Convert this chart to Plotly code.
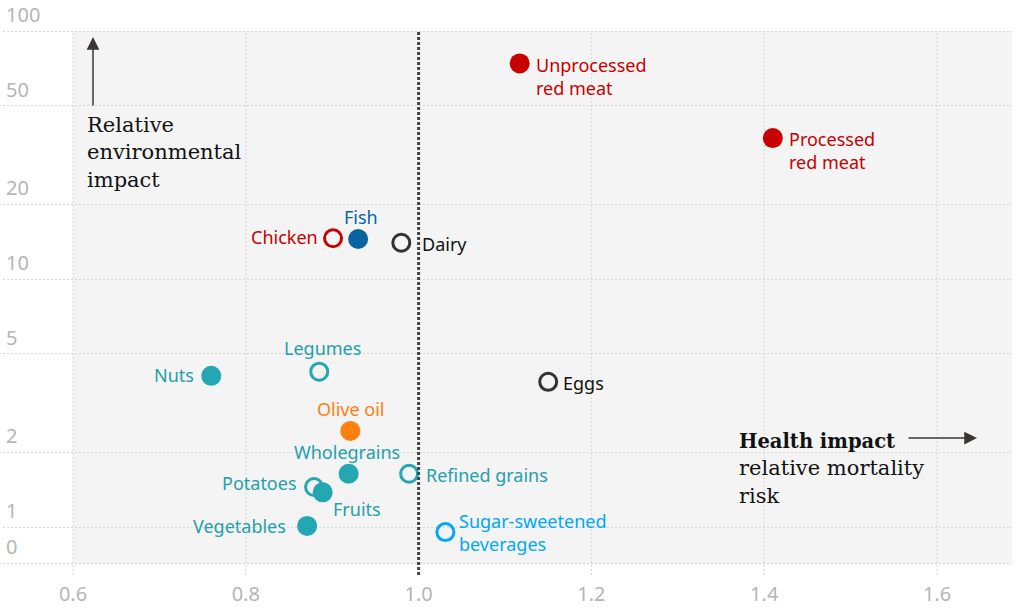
import math
import plotly.graph_objects as go

# ---------------- data ----------------
foods = ["Unprocessed red meat", "Processed red meat", "Chicken", "Fish", "Dairy",
         "Nuts", "Legumes", "Eggs", "Olive oil", "Wholegrains", "Refined grains",
         "Potatoes", "Fruits", "Vegetables", "Sugar-sweetened beverages"]
health_risk = [1.117, 1.410, 0.901, 0.930, 0.980, 0.760, 0.885, 1.150, 0.921,
               0.919, 0.989, 0.879, 0.889, 0.871, 1.031]
env_impact = [74.0, 37.0, 14.6, 14.5, 14.0, 4.07, 4.23, 3.85, 2.44,
              1.64, 1.64, 1.45, 1.38, 1.01, 0.954]
filled = [True, True, False, True, False, True, False, False, True,
          True, False, False, True, True, False]
group = ["red", "red", "red", "fish", "dark", "teal", "teal", "dark", "orange",
         "teal", "teal", "teal", "teal", "teal", "sky"]
label_text = ["Unprocessed<br>red meat", "Processed<br>red meat", "Chicken", "Fish", "Dairy",
              "Nuts", "Legumes", "Eggs", "Olive oil", "Wholegrains", "Refined grains",
              "Potatoes", "Fruits", "Vegetables", "Sugar-sweetened<br>beverages"]

x_tickvals = [0.6, 0.8, 1.0, 1.2, 1.4, 1.6]
x_ticktext = ["0.6", "0.8", "1.0", "1.2", "1.4", "1.6"]
y_tickvals = [0.715, 1, 2, 5, 10, 20, 50, 100]
y_ticktext = ["0", "1", "2", "5", "10", "20", "50", "100"]

# ---------------- styles ----------------
colors = {"red": "#c70000", "fish": "#0a64a0", "dark": "#333333",
          "teal": "#24a7b2", "orange": "#ff7f0f", "sky": "#00a8f5"}
label_colors = {"red": "#c70000", "fish": "#0a64a0", "dark": "#121212",
                "teal": "#1fa0ab", "orange": "#ff7f0f", "sky": "#00a8f5"}
# label placement: (xanchor, xshift px, yshift px)
label_pos = {
    "Unprocessed red meat": ("left", 14, -13),
    "Processed red meat": ("left", 14, -12),
    "Chicken": ("right", -13, 1),
    "Fish": ("center", 3, 22),
    "Dairy": ("left", 19, -1),
    "Nuts": ("right", -15, 1),
    "Legumes": ("center", 3, 24),
    "Eggs": ("left", 13, -1),
    "Olive oil": ("center", 1, 22),
    "Wholegrains": ("center", -2, 22),
    "Refined grains": ("left", 15, -1),
    "Potatoes": ("right", -15, 4),
    "Fruits": ("left", 8, -17),
    "Vegetables": ("right", -19, 0),
    "Sugar-sweetened beverages": ("left", 12, 0),
}

SANS = "Noto Sans"
SERIF = "DejaVu Serif"
GRID = "#d4d4d4"
ML, MR, MT, MB = 3, 12, 0, 38
PW, PH = 1024 - ML - MR, 613 - MT - MB
x_range = [0.6 - (73 - ML) / 864, 0.6 + (1012 - 73) / 864]
y_range = [-0.1935, -0.1935 + PH / 248]


def px(xp):
    return (xp - ML) / PW


def py(yp):
    return (613 - MB - yp) / PH


fig = go.Figure()
fig.add_trace(go.Scatter(
    x=health_risk, y=env_impact, mode="markers",
    marker=dict(
        size=[20 if f else 17 for f in filled],
        symbol=["circle" if f else "circle-open" for f in filled],
        color=[colors[g] for g in group],
        opacity=1,
        line=dict(width=[0 if f else 3 for f in filled],
                  color=[colors[g] for g in group]),
    ),
    hoverinfo="text", text=foods, showlegend=False,
))

annotations = []
for name, xv, yv, g, txt in zip(foods, health_risk, env_impact, group, label_text):
    xa, dx, dy = label_pos[name]
    annotations.append(dict(
        x=xv, y=math.log10(yv), xref="x", yref="y", text=txt, showarrow=False,
        xanchor=xa, yanchor="middle", xshift=dx, yshift=dy, align="left",
        font=dict(family=SANS, size=18, color=label_colors[g]),
    ))

# axis titles
annotations.append(dict(
    x=px(85), y=py(152.5), xref="paper", yref="paper",
    text="Relative<br>environmental<br>impact", showarrow=False,
    xanchor="left", yanchor="middle", align="left",
    font=dict(family=SERIF, size=21, color="#121212"),
))
annotations.append(dict(
    x=px(737), y=py(468.5), xref="paper", yref="paper",
    text="<b><span style='font-size:19.5px'>Health impact</span></b><br>relative mortality<br>risk",
    showarrow=False, xanchor="left", yanchor="middle", align="left",
    font=dict(family=SERIF, size=21, color="#121212"),
))
# arrows
annotations.append(dict(
    x=px(93), y=py(37), xref="paper", yref="paper",
    text="", showarrow=True, ax=0, ay=70, arrowhead=2, arrowsize=1.7,
    arrowwidth=1.5, arrowcolor="#3a3633",
))
annotations.append(dict(
    x=px(977), y=py(438), xref="paper", yref="paper",
    text="", showarrow=True, ax=-70, ay=0, arrowhead=2, arrowsize=1.7,
    arrowwidth=1.5, arrowcolor="#3a3633",
))

shapes = [
    dict(type="rect", xref="x", yref="y", x0=0.6, x1=x_range[1],
         y0=y_tickvals[0], y1=y_tickvals[-1],
         fillcolor="#f4f4f4", line=dict(width=0), layer="below"),
]
for xv in x_tickvals:
    if xv == 1.0:
        continue
    shapes.append(dict(type="line", xref="x", yref="y", x0=xv, x1=xv,
                       y0=10 ** y_range[0], y1=y_tickvals[-1],
                       line=dict(color=GRID, width=1, dash="2px,2px"), layer="below"))
shapes.append(dict(type="line", xref="x", yref="y", x0=1.0, x1=1.0,
                   y0=10 ** y_range[0], y1=y_tickvals[-1],
                   line=dict(color="#444444", width=3, dash="3px,2px"), layer="above"))

fig.update_layout(
    width=1024, height=613,
    margin=dict(l=ML, r=MR, t=MT, b=MB, autoexpand=False),
    paper_bgcolor="white", plot_bgcolor="white",
    shapes=shapes, annotations=annotations,
    xaxis=dict(range=x_range, tickmode="array", tickvals=x_tickvals, ticktext=x_ticktext,
               showgrid=False, zeroline=False, showline=False, ticks="",
               ticklabelstandoff=5,
               tickfont=dict(family=SANS, size=20, color="#b5b5b5")),
    yaxis=dict(type="log", range=y_range, tickmode="array", tickvals=y_tickvals,
               ticktext=y_ticktext, showgrid=True, gridcolor=GRID,
               griddash="2px,2px", gridwidth=1, zeroline=False, showline=False,
               ticks="", ticklabelposition="inside top", ticklabelshift=-2,
               tickfont=dict(family=SANS, size=20, color="#b5b5b5")),
)

fig.write_html("out.html")
